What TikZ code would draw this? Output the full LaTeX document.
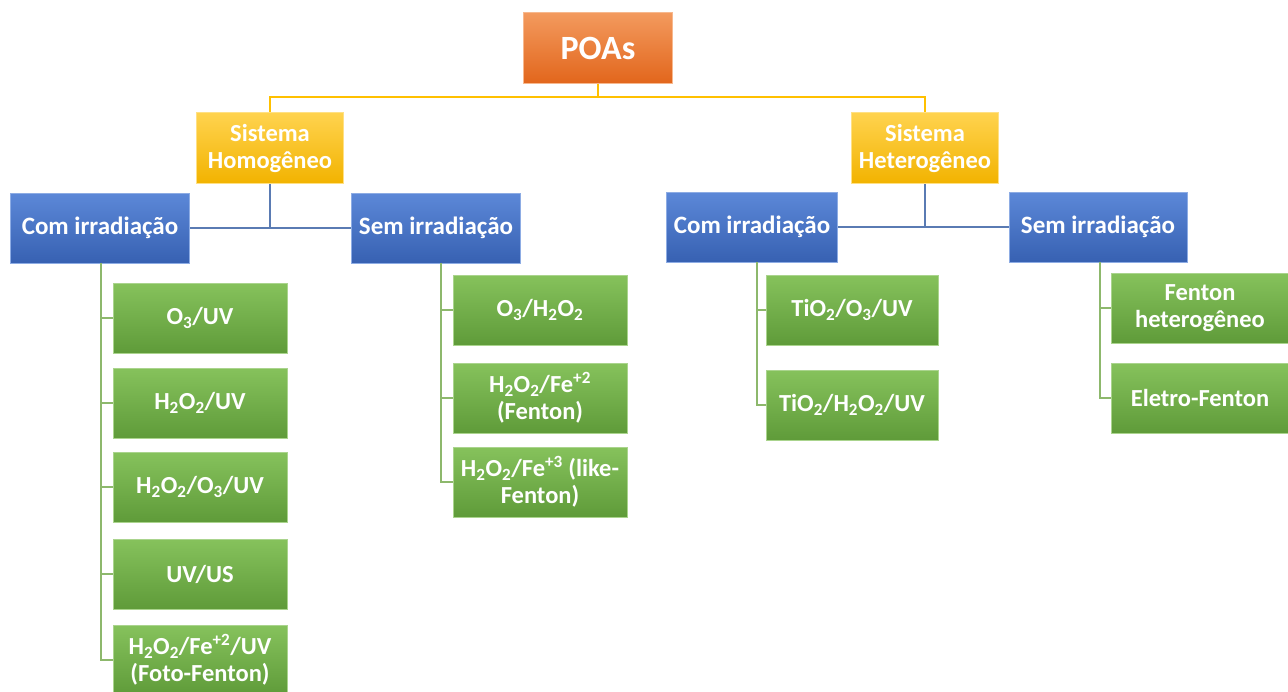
\documentclass[tikz,border=0pt]{standalone}
\usepackage{fontspec}
\setmainfont{Carlito}
\usetikzlibrary{positioning}

\definecolor{poaTop}{HTML}{F39A5E}
\definecolor{poaBot}{HTML}{E2661C}
\definecolor{sisTop}{HTML}{FFD34F}
\definecolor{sisBot}{HTML}{F2B300}
\definecolor{ramoTop}{HTML}{5C88D8}
\definecolor{ramoBot}{HTML}{3761B2}
\definecolor{procTop}{HTML}{86C25C}
\definecolor{procBot}{HTML}{5F9B39}
\definecolor{lineYel}{HTML}{FFC000}
\definecolor{lineBlu}{HTML}{5A7BB3}
\definecolor{lineGrn}{HTML}{8DB86C}

\begin{document}
\begin{tikzpicture}[x=1pt,y=-1pt,
  box/.style={rectangle, text=white, align=center, inner sep=0pt,
    font=\bfseries\fontsize{24.5}{27}\selectfont, line width=1pt},
  root/.style={box, top color=poaTop, bottom color=poaBot, draw=poaTop!70!white,
    minimum width=149pt, minimum height=71pt,
    font=\bfseries\fontsize{34}{36}\selectfont},
  sistema/.style={box, top color=sisTop, bottom color=sisBot, draw=sisTop!70!white,
    minimum width=147pt, minimum height=71pt},
  ramo/.style={box, top color=ramoTop, bottom color=ramoBot, draw=ramoTop!70!white,
    minimum height=70pt, font=\bfseries\fontsize{25}{28}\selectfont},
  proc/.style={box, top color=procTop, bottom color=procBot, draw=procTop!70!white,
    minimum width=174pt, minimum height=70pt},
  yel/.style={draw=lineYel, line width=2.5pt},
  blu/.style={draw=lineBlu, line width=2.5pt},
  grn/.style={draw=lineGrn, line width=2.5pt}
]
\useasboundingbox[fill=white] (0,0) rectangle (1288,691);

% raiz e sistemas
\node[root] (poas) at (598,48) {POAs};
\node[sistema] (homo) at (270,148) {Sistema\\Homogêneo};
\node[sistema] (hetero) at (925,148) {Sistema\\Heterogêneo};

% com / sem irradiacao
\node[ramo, minimum width=179pt] (comHo) at (100,228) {Com irradiação};
\node[ramo, minimum width=169pt] (semHo) at (436,228) {Sem irradiação};
\node[ramo, minimum width=171pt] (comHe) at (752,227) {Com irradiação};
\node[ramo, minimum width=178pt] (semHe) at (1098,227) {Sem irradiação};

% processos
\node[proc] (o3uv) at (200,318) {O\textsubscript{3}/UV};
\node[proc] (h2o2uv) at (200,403) {H\textsubscript{2}O\textsubscript{2}/UV};
\node[proc] (h2o2o3uv) at (200,487) {H\textsubscript{2}O\textsubscript{2}/O\textsubscript{3}/UV};
\node[proc] (uvus) at (200,574) {UV/US};
\node[proc] (foto) at (200,660) {H\textsubscript{2}O\textsubscript{2}/Fe\textsuperscript{+2}/UV\\(Foto-Fenton)};

\node[proc] (o3h2o2) at (540,310) {O\textsubscript{3}/H\textsubscript{2}O\textsubscript{2}};
\node[proc] (fenton) at (540,398) {H\textsubscript{2}O\textsubscript{2}/Fe\textsuperscript{+2}\\(Fenton)};
\node[proc] (like) at (540,482) {H\textsubscript{2}O\textsubscript{2}/Fe\textsuperscript{+3} (like-\\Fenton)};

\node[proc, minimum width=172pt] (tio3) at (852,310) {TiO\textsubscript{2}/O\textsubscript{3}/UV};
\node[proc, minimum width=172pt] (tih2o2) at (852,405) {TiO\textsubscript{2}/H\textsubscript{2}O\textsubscript{2}/UV};

\node[proc, minimum width=178pt] (fhet) at (1200,308) {Fenton\\heterogêneo};
\node[proc, minimum width=178pt] (eletro) at (1200,398) {Eletro-Fenton};

% ligacoes
\coordinate (bus) at (598,97);
\draw[yel] (poas) -- (bus) -| (homo);
\draw[yel] (bus) -| (hetero);

\draw[blu] (homo) |- (comHo);
\draw[blu] (homo) |- (semHo);
\draw[blu] (hetero) |- (comHe);
\draw[blu] (hetero) |- (semHe);

\coordinate (tapA) at (101,263);
\coordinate (tapB) at (441,263);
\coordinate (tapC) at (757,262);
\coordinate (tapD) at (1100,262);
\foreach \n in {o3uv,h2o2uv,h2o2o3uv,uvus,foto}
  \draw[grn] (tapA) |- (\n.west);
\foreach \n in {o3h2o2,fenton,like}
  \draw[grn] (tapB) |- (\n.west);
\foreach \n in {tio3,tih2o2}
  \draw[grn] (tapC) |- (\n.west);
\foreach \n in {fhet,eletro}
  \draw[grn] (tapD) |- (\n.west);
\end{tikzpicture}
\end{document}
